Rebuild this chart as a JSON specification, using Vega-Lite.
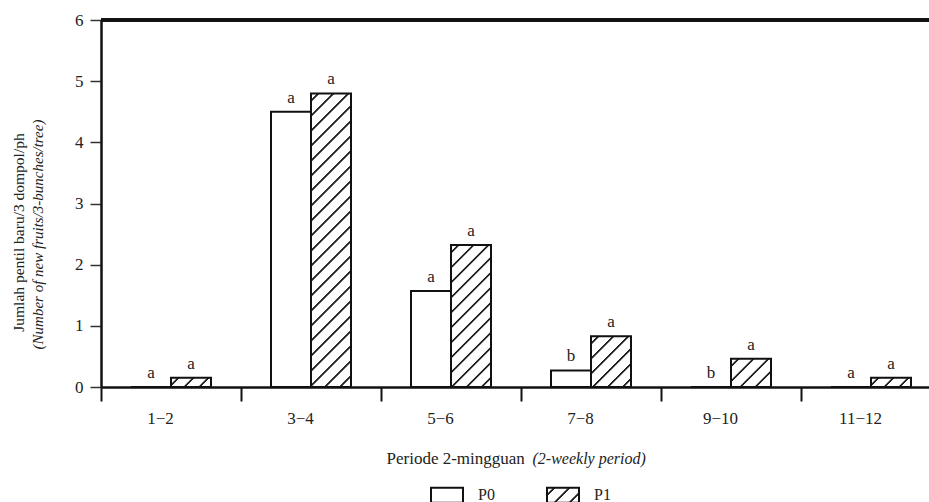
{
  "$schema": "https://vega.github.io/schema/vega-lite/v6.json",
  "width": 828,
  "height": 367,
  "autosize": "none",
  "padding": {"left": 101, "top": 20, "right": 0, "bottom": 115},
  "background": "white",
  "config": {
    "view": {"stroke": null},
    "font": "Liberation Serif",
    "axis": {"labelFont": "Liberation Serif", "titleFont": "Liberation Serif", "labelColor": "#222", "titleColor": "#222", "grid": false, "titleFontWeight": "normal", "labelFontSize": 17, "titleFontSize": 16, "labelFlush": false, "labelOverlap": false}
  },
  "params": [
    {"name": "hatch", "value": [
      {"offset": 0, "color": "#fff"},
      {"offset": 0.0129, "color": "#fff"}, {"offset": 0.0149, "color": "#222"}, {"offset": 0.0185, "color": "#222"}, {"offset": 0.0205, "color": "#fff"},
      {"offset": 0.0462, "color": "#fff"}, {"offset": 0.0482, "color": "#222"}, {"offset": 0.0518, "color": "#222"}, {"offset": 0.0538, "color": "#fff"},
      {"offset": 0.0795, "color": "#fff"}, {"offset": 0.0815, "color": "#222"}, {"offset": 0.0851, "color": "#222"}, {"offset": 0.0871, "color": "#fff"},
      {"offset": 0.1129, "color": "#fff"}, {"offset": 0.1149, "color": "#222"}, {"offset": 0.1185, "color": "#222"}, {"offset": 0.1205, "color": "#fff"},
      {"offset": 0.1462, "color": "#fff"}, {"offset": 0.1482, "color": "#222"}, {"offset": 0.1518, "color": "#222"}, {"offset": 0.1538, "color": "#fff"},
      {"offset": 0.1795, "color": "#fff"}, {"offset": 0.1815, "color": "#222"}, {"offset": 0.1851, "color": "#222"}, {"offset": 0.1871, "color": "#fff"},
      {"offset": 0.2129, "color": "#fff"}, {"offset": 0.2149, "color": "#222"}, {"offset": 0.2185, "color": "#222"}, {"offset": 0.2205, "color": "#fff"},
      {"offset": 0.2462, "color": "#fff"}, {"offset": 0.2482, "color": "#222"}, {"offset": 0.2518, "color": "#222"}, {"offset": 0.2538, "color": "#fff"},
      {"offset": 0.2795, "color": "#fff"}, {"offset": 0.2815, "color": "#222"}, {"offset": 0.2851, "color": "#222"}, {"offset": 0.2871, "color": "#fff"},
      {"offset": 0.3129, "color": "#fff"}, {"offset": 0.3149, "color": "#222"}, {"offset": 0.3185, "color": "#222"}, {"offset": 0.3205, "color": "#fff"},
      {"offset": 0.3462, "color": "#fff"}, {"offset": 0.3482, "color": "#222"}, {"offset": 0.3518, "color": "#222"}, {"offset": 0.3538, "color": "#fff"},
      {"offset": 0.3795, "color": "#fff"}, {"offset": 0.3815, "color": "#222"}, {"offset": 0.3851, "color": "#222"}, {"offset": 0.3871, "color": "#fff"},
      {"offset": 0.4129, "color": "#fff"}, {"offset": 0.4149, "color": "#222"}, {"offset": 0.4185, "color": "#222"}, {"offset": 0.4205, "color": "#fff"},
      {"offset": 0.4462, "color": "#fff"}, {"offset": 0.4482, "color": "#222"}, {"offset": 0.4518, "color": "#222"}, {"offset": 0.4538, "color": "#fff"},
      {"offset": 0.4795, "color": "#fff"}, {"offset": 0.4815, "color": "#222"}, {"offset": 0.4851, "color": "#222"}, {"offset": 0.4871, "color": "#fff"},
      {"offset": 0.5129, "color": "#fff"}, {"offset": 0.5149, "color": "#222"}, {"offset": 0.5185, "color": "#222"}, {"offset": 0.5205, "color": "#fff"},
      {"offset": 0.5462, "color": "#fff"}, {"offset": 0.5482, "color": "#222"}, {"offset": 0.5518, "color": "#222"}, {"offset": 0.5538, "color": "#fff"},
      {"offset": 0.5795, "color": "#fff"}, {"offset": 0.5815, "color": "#222"}, {"offset": 0.5851, "color": "#222"}, {"offset": 0.5871, "color": "#fff"},
      {"offset": 0.6129, "color": "#fff"}, {"offset": 0.6149, "color": "#222"}, {"offset": 0.6185, "color": "#222"}, {"offset": 0.6205, "color": "#fff"},
      {"offset": 0.6462, "color": "#fff"}, {"offset": 0.6482, "color": "#222"}, {"offset": 0.6518, "color": "#222"}, {"offset": 0.6538, "color": "#fff"},
      {"offset": 0.6795, "color": "#fff"}, {"offset": 0.6815, "color": "#222"}, {"offset": 0.6851, "color": "#222"}, {"offset": 0.6871, "color": "#fff"},
      {"offset": 0.7129, "color": "#fff"}, {"offset": 0.7149, "color": "#222"}, {"offset": 0.7185, "color": "#222"}, {"offset": 0.7205, "color": "#fff"},
      {"offset": 0.7462, "color": "#fff"}, {"offset": 0.7482, "color": "#222"}, {"offset": 0.7518, "color": "#222"}, {"offset": 0.7538, "color": "#fff"},
      {"offset": 0.7795, "color": "#fff"}, {"offset": 0.7815, "color": "#222"}, {"offset": 0.7851, "color": "#222"}, {"offset": 0.7871, "color": "#fff"},
      {"offset": 0.8129, "color": "#fff"}, {"offset": 0.8149, "color": "#222"}, {"offset": 0.8185, "color": "#222"}, {"offset": 0.8205, "color": "#fff"},
      {"offset": 0.8462, "color": "#fff"}, {"offset": 0.8482, "color": "#222"}, {"offset": 0.8518, "color": "#222"}, {"offset": 0.8538, "color": "#fff"},
      {"offset": 0.8795, "color": "#fff"}, {"offset": 0.8815, "color": "#222"}, {"offset": 0.8851, "color": "#222"}, {"offset": 0.8871, "color": "#fff"},
      {"offset": 0.9129, "color": "#fff"}, {"offset": 0.9149, "color": "#222"}, {"offset": 0.9185, "color": "#222"}, {"offset": 0.9205, "color": "#fff"},
      {"offset": 0.9462, "color": "#fff"}, {"offset": 0.9482, "color": "#222"}, {"offset": 0.9518, "color": "#222"}, {"offset": 0.9538, "color": "#fff"},
      {"offset": 0.9795, "color": "#fff"}, {"offset": 0.9815, "color": "#222"}, {"offset": 0.9851, "color": "#222"}, {"offset": 0.9871, "color": "#fff"},
      {"offset": 1, "color": "#fff"}
    ]}
  ],
  "data": {"values": [
    {"period": "1−2", "group": "P0", "value": 0, "letter": "a"},
    {"period": "1−2", "group": "P1", "value": 0.15, "letter": "a"},
    {"period": "3−4", "group": "P0", "value": 4.5, "letter": "a"},
    {"period": "3−4", "group": "P1", "value": 4.8, "letter": "a"},
    {"period": "5−6", "group": "P0", "value": 1.57, "letter": "a"},
    {"period": "5−6", "group": "P1", "value": 2.32, "letter": "a"},
    {"period": "7−8", "group": "P0", "value": 0.27, "letter": "b"},
    {"period": "7−8", "group": "P1", "value": 0.83, "letter": "a"},
    {"period": "9−10", "group": "P0", "value": 0, "letter": "b"},
    {"period": "9−10", "group": "P1", "value": 0.46, "letter": "a"},
    {"period": "11−12", "group": "P0", "value": 0, "letter": "a"},
    {"period": "11−12", "group": "P1", "value": 0.15, "letter": "a"}
  ]},
  "resolve": {"axis": {"x": "independent", "y": "independent"}},
  "layer": [
    {
      "mark": {
        "type": "bar",
        "strokeWidth": 2,
        "fill": {"expr": "datum.group === 'P1' ? {gradient: 'linear', x1: 0, y1: 0, x2: bandwidth('xOffset') * 450 / (pow(bandwidth('xOffset'), 2) + pow(scale('y', 0) - scale('y', datum.value), 2)), y2: (scale('y', 0) - scale('y', datum.value)) * 450 / (pow(bandwidth('xOffset'), 2) + pow(scale('y', 0) - scale('y', datum.value), 2)), stops: hatch} : datum.value === 'P1' ? {gradient: 'linear', x1: 0, y1: 0, x2: 11.5, y2: 5.4, stops: hatch} : 'white'"}
      },
      "encoding": {
        "x": {
          "field": "period", "type": "nominal",
          "sort": ["1−2", "3−4", "5−6", "7−8", "9−10", "11−12"],
          "scale": {"range": [0, 840], "paddingInner": 0, "paddingOuter": 0},
          "axis": {"title": "Periode 2-mingguan", "titleFontSize": 17, "labelFont": "Liberation Serif", "labelAngle": 0, "tickBand": "extent", "tickSize": 14, "tickWidth": 2, "tickColor": "#111", "domainColor": "#111", "domainWidth": 2.5, "labelPadding": 9, "labelOffset": -11, "titleX": 285, "titleY": 71, "titleAlign": "left", "titleBaseline": "middle"}
        },
        "xOffset": {"field": "group", "type": "nominal", "scale": {"paddingInner": 0, "paddingOuter": 0.75}},
        "y": {
          "field": "value", "type": "quantitative", "stack": null,
          "scale": {"domain": [0, 6], "nice": false},
          "axis": {"title": "(Number of  new fruits/3-bunches/tree)", "titleFontStyle": "italic", "titleFontSize": 15, "labelFont": "Liberation Serif", "values": [0, 1, 2, 3, 4, 5, 6], "tickSize": 11, "tickWidth": 1.5, "tickColor": "#333", "domainColor": "#111", "domainWidth": 2.5, "labelPadding": 7, "titleX": -64, "titleY": 214, "titleBaseline": "middle", "titleAngle": -90, "titleAlign": "center"}
        },
        "stroke": {
          "field": "group", "type": "nominal",
          "scale": {"range": ["#111", "#111"]},
          "legend": {
            "orient": "none", "legendX": 329, "legendY": 458, "direction": "horizontal", "title": null,
            "symbolType": "M-1,-0.47H1V0.47H-1Z", "symbolSize": 1024, "symbolStrokeWidth": 2,
            "labelFontSize": 16, "labelFont": "Liberation Serif", "labelOffset": 14, "columnPadding": 48, "labelColor": "#222"
          }
        }
      }
    },
    {
      "mark": {"type": "text", "baseline": "alphabetic", "dy": -9, "fontSize": 17, "font": "Liberation Serif", "color": "#222"},
      "encoding": {
        "x": {
          "field": "period", "type": "nominal",
          "sort": ["1−2", "3−4", "5−6", "7−8", "9−10", "11−12"],
          "axis": {"orient": "bottom", "title": "(2-weekly period)", "titleFontStyle": "italic", "labels": false, "ticks": false, "domain": false, "titleX": 431, "titleY": 71, "titleAlign": "left", "titleBaseline": "middle"}
        },
        "xOffset": {"field": "group", "type": "nominal"},
        "y": {
          "field": "value", "type": "quantitative",
          "axis": {"orient": "left", "title": "Jumlah pentil baru/3 dompol/ph", "titleFontSize": 15.5, "labels": false, "ticks": false, "domain": false, "titleX": -83, "titleY": 212, "titleBaseline": "middle", "titleAngle": -90, "titleAlign": "center"}
        },
        "text": {"field": "letter"}
      }
    },
    {
      "mark": {"type": "rule", "strokeWidth": 2.5, "color": "#111"},
      "encoding": {"y": {"datum": 6, "type": "quantitative", "axis": null}}
    }
  ]
}
